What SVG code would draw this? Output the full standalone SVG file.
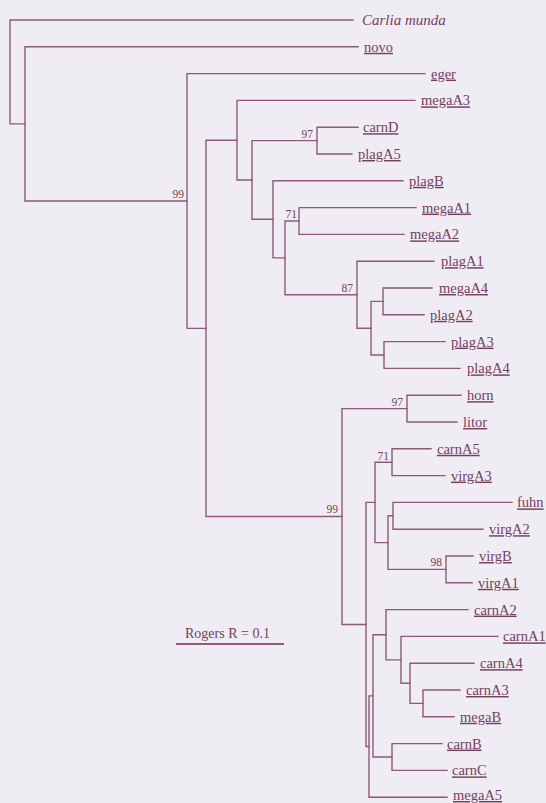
<svg xmlns="http://www.w3.org/2000/svg" width="546" height="803" viewBox="0 0 546 803">
<style>
.br{fill:none;stroke:#8d5b75;stroke-width:1.4;stroke-linecap:square}
.lf{font-family:"Liberation Serif",serif;font-size:14.5px;fill:#74405e;text-decoration:underline}
.it{font-family:"Liberation Serif",serif;font-size:15px;font-style:italic;fill:#74405e}
.sp{font-family:"Liberation Serif",serif;font-size:11.5px;fill:#74405e;text-anchor:end}
.sc{font-family:"Liberation Serif",serif;font-size:14px;fill:#74405e}
</style>
<rect width="546" height="803" fill="#efedf3"/>
<g id="connectors" class="br">
<path d="M353,20 H10 V123.9 H25"/>
<path d="M358,46.8 H25 V201 H187"/>
<path d="M425,73.6 H187 V328.4 H206"/>
<path d="M237,140.2 H206 V516.5 H342"/>
<path d="M415,100.4 H237 V180 H252"/>
<path d="M317,140.6 H252 V219.3 H273"/>
<path d="M358,127.2 H317 V154 H352"/>
<path d="M403,180.8 H273 V257.9 H285"/>
<path d="M299,221 H285 V294.7 H357"/>
<path d="M416,207.6 H299 V234.4 H404"/>
<path d="M434,261.2 H357 V328.2 H371"/>
<path d="M383,301.4 H371 V355 H384"/>
<path d="M432,288 H383 V314.8 H424"/>
<path d="M445,341.6 H384 V368.4 H460"/>
<path d="M407,408.6 H342 V624.5 H366"/>
<path d="M461,395.2 H407 V422 H457"/>
<path d="M375,502.4 H366 V746.5 H369"/>
<path d="M392,462.2 H375 V542.6 H388"/>
<path d="M431,448.8 H392 V475.6 H445"/>
<path d="M393,515.8 H388 V569.4 H446"/>
<path d="M512,502.4 H393 V529.2 H483"/>
<path d="M473,556 H446 V582.8 H472"/>
<path d="M373,695.9 H369 V797.2 H447"/>
<path d="M386,634.7 H373 V757 H392"/>
<path d="M468,609.6 H386 V659.9 H401"/>
<path d="M498,636.4 H401 V683.3 H410"/>
<path d="M474,663.2 H410 V703.4 H423"/>
<path d="M460,690 H423 V716.8 H454"/>
<path d="M442,743.6 H392 V770.4 H447"/>
</g>
<g id="leaf-carlia"><text class="it" x="362" y="25">Carlia munda</text></g>
<g id="leaf-novo"><text class="lf" x="364" y="51.8">novo</text></g>
<g id="leaf-eger"><text class="lf" x="431" y="78.6">eger</text></g>
<g id="leaf-megaA3"><text class="lf" x="421" y="105.4">megaA3</text></g>
<g id="leaf-carnD"><text class="lf" x="363" y="132.2">carnD</text></g>
<g id="leaf-plagA5"><text class="lf" x="358" y="159">plagA5</text></g>
<g id="leaf-plagB"><text class="lf" x="409" y="185.8">plagB</text></g>
<g id="leaf-megaA1"><text class="lf" x="422" y="212.6">megaA1</text></g>
<g id="leaf-megaA2"><text class="lf" x="410" y="239.4">megaA2</text></g>
<g id="leaf-plagA1"><text class="lf" x="441" y="266.2">plagA1</text></g>
<g id="leaf-megaA4"><text class="lf" x="439" y="293">megaA4</text></g>
<g id="leaf-plagA2"><text class="lf" x="430" y="319.8">plagA2</text></g>
<g id="leaf-plagA3"><text class="lf" x="451" y="346.6">plagA3</text></g>
<g id="leaf-plagA4"><text class="lf" x="467" y="373.4">plagA4</text></g>
<g id="leaf-horn"><text class="lf" x="467" y="400.2">horn</text></g>
<g id="leaf-litor"><text class="lf" x="463" y="427">litor</text></g>
<g id="leaf-carnA5"><text class="lf" x="437" y="453.8">carnA5</text></g>
<g id="leaf-virgA3"><text class="lf" x="451" y="480.6">virgA3</text></g>
<g id="leaf-fuhn"><text class="lf" x="517" y="507.4">fuhn</text></g>
<g id="leaf-virgA2"><text class="lf" x="489" y="534.2">virgA2</text></g>
<g id="leaf-virgB"><text class="lf" x="479" y="561">virgB</text></g>
<g id="leaf-virgA1"><text class="lf" x="478" y="587.8">virgA1</text></g>
<g id="leaf-carnA2"><text class="lf" x="474" y="614.6">carnA2</text></g>
<g id="leaf-carnA1"><text class="lf" x="503" y="641.4">carnA1</text></g>
<g id="leaf-carnA4"><text class="lf" x="480" y="668.2">carnA4</text></g>
<g id="leaf-carnA3"><text class="lf" x="466" y="695">carnA3</text></g>
<g id="leaf-megaB"><text class="lf" x="460" y="721.8">megaB</text></g>
<g id="leaf-carnB"><text class="lf" x="447" y="748.6">carnB</text></g>
<g id="leaf-carnC"><text class="lf" x="452" y="775.4">carnC</text></g>
<g id="leaf-megaA5"><text class="lf" x="453" y="800">megaA5</text></g>
<g id="node-ingroup"><text class="sp" x="184" y="198">99</text></g>
<g id="node-carnD-plagA5"><text class="sp" x="313" y="138">97</text></g>
<g id="node-megaA1-megaA2"><text class="sp" x="297" y="218">71</text></g>
<g id="node-plagA1-clade"><text class="sp" x="353" y="291.5">87</text></g>
<g id="node-lower-clade"><text class="sp" x="338" y="513">99</text></g>
<g id="node-horn-litor"><text class="sp" x="403" y="405.5">97</text></g>
<g id="node-carnA5-virgA3"><text class="sp" x="389" y="459.5">71</text></g>
<g id="node-virgB-virgA1"><text class="sp" x="442" y="566">98</text></g>
<g id="scale-bar">
<text class="sc" x="185" y="638">Rogers R = 0.1</text>
<path d="M176,644 H284" stroke="#8d5b75" stroke-width="1.8" fill="none"/>
</g>
</svg>
